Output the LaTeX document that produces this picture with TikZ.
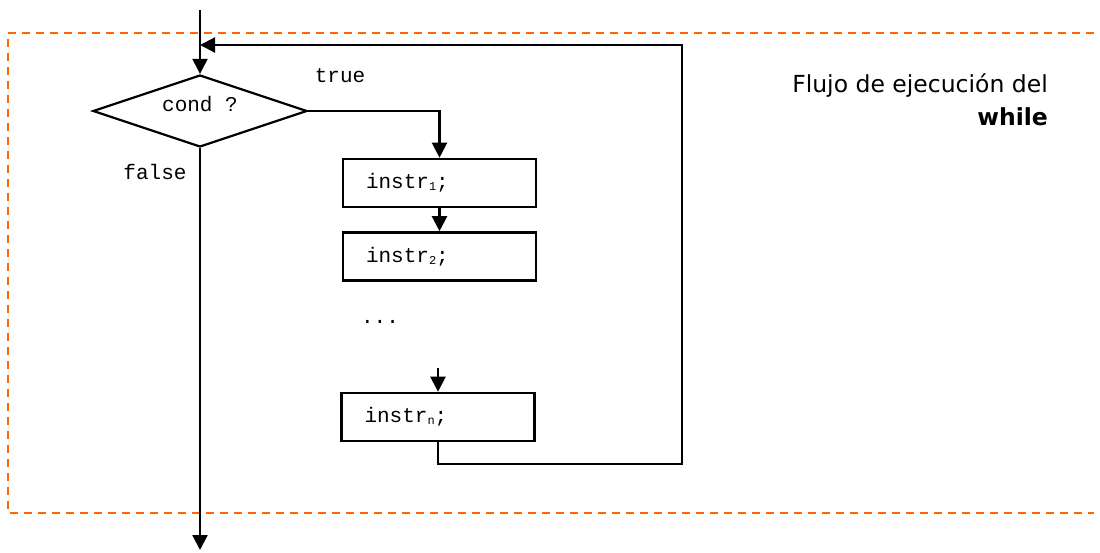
\documentclass[tikz,border=0pt]{standalone}
\usepackage{fontspec}
\setmainfont{DejaVu Sans}
\newfontfamily\codefont{Liberation Mono}
\usetikzlibrary{arrows.meta,shapes.geometric}

\definecolor{frameorange}{RGB}{255,102,0}
\newcommand{\subidx}[1]{{\fontsize{12}{12}\selectfont\raisebox{-2pt}{#1}}}

\tikzset{
  flow/.style={line width=2.2pt, draw=black},
  arr/.style={flow, -{Triangle[width=15pt,length=15pt]}},
  decision/.style={diamond, draw, line width=2.2pt, minimum width=214pt,
    minimum height=72pt, inner sep=0pt, aspect=3},
  instrbox/.style={rectangle, draw, line width=2.6pt, minimum height=48pt,
    text width=147pt, inner xsep=23pt, align=left,
    font=\codefont\fontsize{21}{21}\selectfont},
  code/.style={font=\codefont\fontsize{21}{21}\selectfont, inner sep=0pt},
  caption/.style={font=\fontsize{23.5}{23.5}\selectfont, inner sep=0pt, anchor=base east},
  frame/.style={draw=frameorange, line width=2pt, dash pattern=on 8pt off 6pt}
}

\begin{document}
\begin{tikzpicture}[x=1pt, y=-1pt]
  \useasboundingbox (0,0) rectangle (1100,552);

  % dashed frame around the loop body
  \draw[frame] (1094,33) -- (8,33) -- (8,513) -- (1094,513);

  % decision and statements
  \node[decision] (cond) at (200,111) {};
  \node[code, anchor=base] (condtxt) at (cond.center) {cond ?};

  \node[instrbox] (b1) at (439.5,183) {instr\subidx{1};};
  \node[instrbox] (b2) at (439.5,256.5) {instr\subidx{2};};
  \node[code] (dots) at (380,322) {...};
  \node[instrbox] (bn) at (438,417) {instr\subidx{n};};

  % branch labels
  \node[code] (ltrue) at (340,76) {true};
  \node[code] (lfalse) at (155,172) {false};

  % caption
  \node[caption] (cap1) at (1048,92) {Flujo de ejecución del};
  \node[caption] (cap2) at (1048,125) {\textbf{while}};

  % connectors
  \coordinate (entry) at (200,10);
  \coordinate (exit) at (200,550);
  \coordinate (join) at (200,45);
  \coordinate (loopR) at (682,464);
  \coordinate (loopT) at (682,45);
  \coordinate (dotsout) at (bn.north |- 0,368);

  \draw[arr] (entry) -- (cond.north);
  \draw[arr] (cond.east) -| (b1.north);
  \draw[arr] (b1.south) -- (b2.north);
  \draw[arr] (dotsout) -- (bn.north);
  \draw[arr] (bn.south) |- (loopR) -- (loopT) -- (join);
  \draw[arr] (cond.south) -- (exit);
\end{tikzpicture}
\end{document}
